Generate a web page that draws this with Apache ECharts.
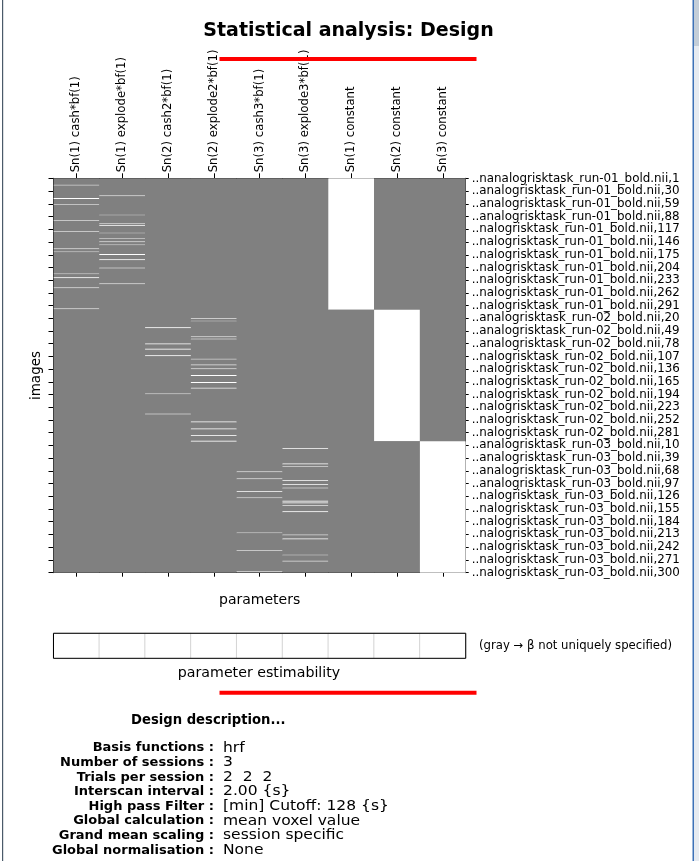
<!DOCTYPE html>
<html>
<head>
<meta charset="utf-8">
<script src="https://cdn.jsdelivr.net/npm/echarts@6/dist/echarts.min.js"></script>
<style>
html,body{margin:0;padding:0;background:#fff;}
#chart{width:699px;height:861px;}
</style>
</head>
<body>
<div id="chart"></div>
<script>
// ---------- data ----------
const parameterNames = [
  'Sn(1) cash*bf(1)', 'Sn(1) explode*bf(1)', 'Sn(2) cash2*bf(1)',
  'Sn(2) explode2*bf(1)', 'Sn(3) cash3*bf(1)', 'Sn(3) explode3*bf(1)',
  'Sn(1) constant', 'Sn(2) constant', 'Sn(3) constant'
];
const scansPerSession = 300;
const sessionCount = 3;
const imageLabels = [
  '..nanalogrisktask_run-01_bold.nii,1', '..analogrisktask_run-01_bold.nii,30',
  '..analogrisktask_run-01_bold.nii,59', '..analogrisktask_run-01_bold.nii,88',
  '..nalogrisktask_run-01_bold.nii,117', '..nalogrisktask_run-01_bold.nii,146',
  '..nalogrisktask_run-01_bold.nii,175', '..nalogrisktask_run-01_bold.nii,204',
  '..nalogrisktask_run-01_bold.nii,233', '..nalogrisktask_run-01_bold.nii,262',
  '..nalogrisktask_run-01_bold.nii,291', '..analogrisktask_run-02_bold.nii,20',
  '..analogrisktask_run-02_bold.nii,49', '..analogrisktask_run-02_bold.nii,78',
  '..nalogrisktask_run-02_bold.nii,107', '..nalogrisktask_run-02_bold.nii,136',
  '..nalogrisktask_run-02_bold.nii,165', '..nalogrisktask_run-02_bold.nii,194',
  '..nalogrisktask_run-02_bold.nii,223', '..nalogrisktask_run-02_bold.nii,252',
  '..nalogrisktask_run-02_bold.nii,281', '..analogrisktask_run-03_bold.nii,10',
  '..analogrisktask_run-03_bold.nii,39', '..analogrisktask_run-03_bold.nii,68',
  '..analogrisktask_run-03_bold.nii,97', '..nalogrisktask_run-03_bold.nii,126',
  '..nalogrisktask_run-03_bold.nii,155', '..nalogrisktask_run-03_bold.nii,184',
  '..nalogrisktask_run-03_bold.nii,213', '..nalogrisktask_run-03_bold.nii,242',
  '..nalogrisktask_run-03_bold.nii,271', '..nalogrisktask_run-03_bold.nii,300'
];
const labelStep = 29;
// event rows (image index, 0-based) and display intensity per regressor
const cashS1 = [[15,0.8],[45,1],[59,0.85],[95,1],[120,1],[160,1],[167,0.85],[217,0.85],[226,1],[249,1],[297,1]];
const explodeS1 = [[39,1],[83,0.8],[103,1],[107,1],[124,0.8],[136,0.9],[144,1],[151,0.85],[173,1],[185,1],[204,1],[240,1]];
const cashS2 = [[340,1],[377,1],[389,1],[404,1],[491,0.9],[537,1]];
const explodeS2 = [[319,0.8],[325,0.8],[361,1],[366,1],[412,0.8],[425,0.9],[434,1],[449,1],[465,1],[478,0.9],[555,1],[571,1],[586,0.9],[599,1]];
const cashS3 = [[669,1],[685,1],[714,1],[728,0.8],[808,0.85],[848,1],[896,1]];
const explodeS3 = [[616,1],[651,1],[657,0.85],[689,1],[698,1],[706,1],[736,1],[740,1],[746,0.9],[760,1],[813,0.85],[822,1],[859,0.85],[873,0.85]];
const eventColumns = [cashS1, explodeS1, cashS2, explodeS2, cashS3, explodeS3];
const estimability = [1,1,1,1,1,1,1,1,1];
const descLabels = ['Basis functions :', 'Number of sessions :', 'Trials per session :',
  'Interscan interval :', 'High pass Filter :', 'Global calculation :',
  'Grand mean scaling :', 'Global normalisation :'];
const descValues = ['hrf', '3', '2  2  2', '2.00 {s}', '[min] Cutoff: 128 {s}',
  'mean voxel value', 'session specific', 'None'];

// ---------- build matrix (runs of equal value per column) ----------
const nRows = scansPerSession * sessionCount;
const rowCats = [];
for (let i = 0; i < nRows; i++) rowCats.push(String(i + 1));
const runs = [];
for (let c = 0; c < parameterNames.length; c++) {
  const col = new Array(nRows).fill(0.5);
  if (c >= 6) {
    const s = c - 6;
    for (let r = s * scansPerSession; r < (s + 1) * scansPerSession; r++) col[r] = 1;
  } else {
    eventColumns[c].forEach(([r, v]) => {
      col[r] = Math.max(col[r], v);
      if (r + 1 < nRows) col[r + 1] = Math.max(col[r + 1], v);
    });
  }
  let start = 0;
  for (let r = 1; r <= nRows; r++) {
    if (r === nRows || col[r] !== col[start]) {
      runs.push([c, start, r - 1, col[start]]);
      start = r;
    }
  }
}
const tickEvery = (idx) => idx % labelStep === 0;

// ---------- layout ----------
const FONT = 'DejaVu Sans';
const gL = 53.5, gT = 178.3, gW = 412.2, gH = 394.4;
const eT = 633.3, eH = 25;

const graphics = [
  // window frame
  {type:'rect', shape:{x:2, y:0, width:1.2, height:861}, style:{fill:'#4a5a6a'}, silent:true},
  {type:'rect', shape:{x:692.5, y:0, width:1.5, height:861}, style:{fill:'#3d72b8'}, silent:true},
  {type:'rect', shape:{x:694, y:0, width:5, height:861}, style:{fill:'#e6ebf1'}, silent:true},
  {type:'rect', shape:{x:694, y:0, width:5, height:46}, style:{fill:'#c3ced9'}, silent:true},
  // title
  {type:'text', x:348.5, y:31, style:{text:'Statistical analysis: Design', font:'bold 19px "DejaVu Sans"', fill:'#000', textAlign:'center', textVerticalAlign:'middle'}},
  // red annotation lines
  {type:'rect', shape:{x:219.5, y:57, width:257, height:4}, style:{fill:'#ff0000'}, silent:true, z:50},
  {type:'rect', shape:{x:219.5, y:690.7, width:257, height:4}, style:{fill:'#ff0000'}, silent:true, z:50},
  // estimability frame
  {type:'rect', shape:{x:gL, y:eT, width:gW, height:eH}, style:{fill:'none', stroke:'#000', lineWidth:1}, z:100},
  {type:'text', x:479, y:646, style:{text:'(gray \u2192 \u03B2 not uniquely specified)', font:'11.7px "DejaVu Sans"', fill:'#000', textAlign:'left', textVerticalAlign:'middle'}},
  {type:'text', x:259, y:673, style:{text:'parameter estimability', font:'14.2px "DejaVu Sans"', fill:'#000', textAlign:'center', textVerticalAlign:'middle'}},
  // description heading
  {type:'text', x:131, y:721, style:{text:'Design description...', font:'bold 13.2px "DejaVu Sans"', fill:'#000', textAlign:'left', textVerticalAlign:'middle'}}
];
descLabels.forEach((t, i) => {
  const y = 748 + i * 14.6;
  graphics.push({type:'text', x:214, y:y, style:{text:t, font:'bold 13px "DejaVu Sans"', fill:'#000', textAlign:'right', textVerticalAlign:'middle'}});
  graphics.push({type:'text', x:223, y:y, scaleX:1.15,
    style:{text:descValues[i], font:'13.5px "DejaVu Sans"', fill:'#000', textAlign:'left', textVerticalAlign:'middle'}});
});

const chart = echarts.init(document.getElementById('chart'), null, {renderer:'canvas'});
chart.setOption({
  animation: false,
  backgroundColor: '#ffffff',
  textStyle: {fontFamily: FONT},
  grid: [
    {left: gL, top: gT, width: gW, height: gH, containLabel: false, show:true,
     backgroundColor:'#808080', borderWidth:0},
    {left: gL, top: eT, width: gW, height: eH, containLabel: false}
  ],
  xAxis: [
    {type:'category', gridIndex:0, position:'top', data: parameterNames,
     axisLine:{show:true, lineStyle:{color:'#000', width:1}},
     axisTick:{show:true, alignWithLabel:true, interval:0, length:5, lineStyle:{color:'#000'}},
     axisLabel:{show:true, rotate:-90, interval:0, margin:6, fontSize:11.7, color:'#000', fontFamily:FONT},
     splitLine:{show:false}},
    {type:'category', gridIndex:0, position:'bottom', data: parameterNames,
     name:'parameters', nameLocation:'middle', nameGap:21,
     nameTextStyle:{fontSize:14, color:'#000', fontFamily:FONT},
     axisLine:{show:true, lineStyle:{color:'#000', width:1}},
     axisTick:{show:true, alignWithLabel:true, interval:0, length:4, lineStyle:{color:'#000'}},
     axisLabel:{show:false}, splitLine:{show:false}},
    {type:'category', gridIndex:1, data: parameterNames, show:false}
  ],
  yAxis: [
    {type:'category', gridIndex:0, position:'left', inverse:true, data: rowCats,
     name:'images', nameLocation:'middle', nameGap:10, nameRotate:90,
     nameTextStyle:{fontSize:13.5, color:'#000', fontFamily:FONT},
     axisLine:{show:true, lineStyle:{color:'#000', width:1}},
     axisTick:{show:true, alignWithLabel:true, interval: tickEvery, length:5, lineStyle:{color:'#000'}},
     axisLabel:{show:false}, splitLine:{show:false}},
    {type:'category', gridIndex:0, position:'right', inverse:true, data: rowCats,
     axisLine:{show:true, lineStyle:{color:'#000', width:1}},
     axisTick:{show:true, alignWithLabel:true, interval: tickEvery, length:3, lineStyle:{color:'#000'}},
     axisLabel:{show:true, interval: tickEvery, margin:6, fontSize:11.9, color:'#000', fontFamily:FONT,
       formatter: (v, idx) => imageLabels[Math.round(idx / labelStep)] || ''},
     splitLine:{show:false}},
    {type:'category', gridIndex:1, data:[''], show:false}
  ],
  series: [
    {type:'custom', xAxisIndex:0, yAxisIndex:0, data: runs, silent:true,
     encode:{x:0, y:1},
     renderItem: (params, api) => {
       const c = api.value(0), r0 = api.value(1), r1 = api.value(2), v = api.value(3);
       const p0 = api.coord([c, r0]);
       const p1 = api.coord([c, r1]);
       const sz = api.size([1, 1]);
       const top = Math.min(p0[1], p1[1]) - sz[1] / 2;
       const h = Math.abs(p1[1] - p0[1]) + sz[1];
       const g = Math.round(v * 255);
       return {type:'rect', shape:{x: p0[0] - sz[0] / 2, y: top, width: sz[0], height: h},
               style:{fill: 'rgb(' + g + ',' + g + ',' + g + ')'}};
     }},
    {type:'heatmap', xAxisIndex:2, yAxisIndex:2, progressive:0,
     data: estimability.map((e, i) => ({value:[i, 0, e], itemStyle:{color: e ? '#ffffff' : '#808080'}})),
     itemStyle:{borderColor:'#d4d4d4', borderWidth:1}, emphasis:{disabled:true}}
  ],
  graphic: graphics
});
</script>
</body>
</html>
